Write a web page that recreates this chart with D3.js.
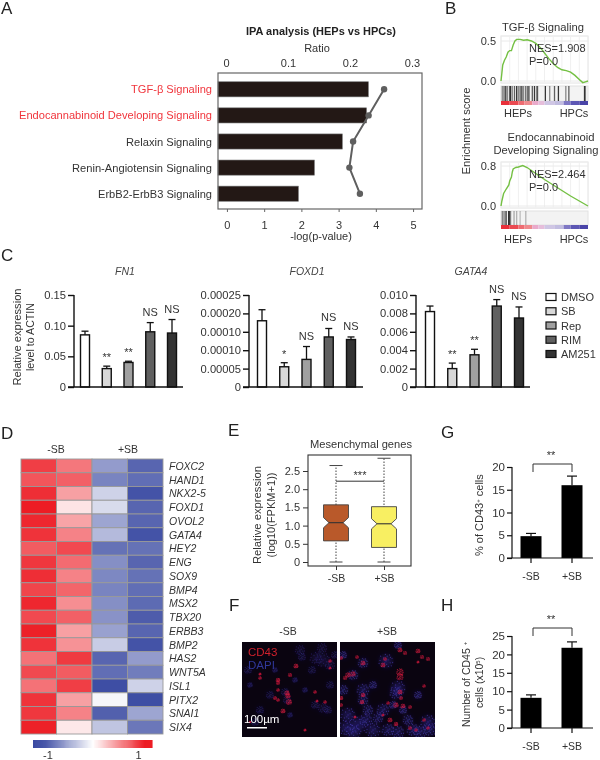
<!DOCTYPE html>
<html><head><meta charset="utf-8">
<script src="https://cdn.jsdelivr.net/npm/d3@7"></script>
<style>html,body{margin:0;padding:0;background:#fff}svg{display:block;filter:blur(0.3px)}text{font-family:"Liberation Sans",Arial,sans-serif;fill:#333}</style>
</head><body><svg id="c" width="600" height="760" viewBox="0 0 600 760"></svg>
<script>
// ---- Panel A
const ipaPathways=["TGF-β Signaling","Endocannabinoid Developing Signaling","Relaxin Signaling","Renin-Angiotensin Signaling","ErbB2-ErbB3 Signaling"];
const ipaLogP=[3.8,3.75,3.1,2.35,1.92];
const ipaRatio=[0.255,0.23,0.205,0.199,0.216];
// ---- Panel B
const gseaCurve1=[[0,0],[.01,.1],[.02,.2],[.04,.26],[.06,.3],[.08,.36],[.1,.38],[.12,.38],[.14,.45],[.16,.5],[.18,.52],[.22,.52],[.26,.51],[.3,.515],[.35,.5],[.4,.47],[.45,.42],[.5,.35],[.55,.28],[.6,.22],[.65,.17],[.7,.14],[.75,.13],[.8,.11],[.85,.07],[.9,.02],[.94,-.02],[.97,-.01],[1,0]];
const gseaCurve2=[[0,0],[.01,.1],[.03,.25],[.06,.34],[.09,.42],[.1,.5],[.12,.58],[.13,.68],[.14,.74],[.17,.77],[.2,.78],[.25,.81],[.3,.77],[.4,.65],[.5,.53],[.6,.42],[.7,.31],[.8,.2],[.9,.1],[1,0]];
const gseaRug1=[.015,.035,.055,.075,.1,.11,.13,.155,.18,.2,.22,.24,.26,.285,.31,.325,.36,.385,.41,.42,.51,.56,.615,.66,.745,.78,.96,.97];
const gseaRug2=[.015,.035,.058,.09,.093,.11,.15,.18,.22,.285];
const gseaRugOp2=[.55,.6,.95,1,1,.55,.35,.3,.25,.3];
const gseaBand=["#e8303a","#ea4a52","#ee6c72","#ef8a8e","#e9aacb","#e6bedb","#cfc6e4","#c2bde0","#7f78c4","#5d57b4","#4a44a8"];
const gseaBandStops=[0,.1,.2,.27,.36,.43,.5,.62,.72,.8,.9,1];
// ---- Panel C
const treatments=["DMSO","SB","Rep","RIM","AM251"];
const treatmentColors=["#ffffff","#d8d8d8","#a0a0a0","#606060","#333333"];
const fn1Values=[.085,.03,.04,.09,.088];
const fn1Err=[.091,.034,.042,.105,.11];
const fn1Marks=["","**","**","NS","NS"];
const fn1Ticks=[0,.05,.1,.15];
const fn1Labels=["0","0.05","0.10","0.15"];
const foxd1Values=[.00018,.000055,.000075,.000136,.000129];
const foxd1Err=[.00021,.000066,.00011,.000159,.000136];
const foxd1Marks=["","*","NS","NS","NS"];
const foxd1Ticks=[0,.00005,.0001,.00015,.0002,.00025];
const foxd1Labels=["0","0.00005","0.00010","0.00010","0.00020","0.00025"];
const gata4Values=[.0082,.002,.0035,.0088,.0075];
const gata4Err=[.0088,.0026,.0041,.0095,.0087];
const gata4Marks=["","**","**","NS","NS"];
const gata4Ticks=[0,.002,.004,.006,.008,.01];
const gata4Labels=["0","0.002","0.004","0.006","0.008","0.010"];
// ---- Panel D
const genes=["FOXC2","HAND1","NKX2-5","FOXD1","OVOL2","GATA4","HEY2","ENG","SOX9","BMP4","MSX2","TBX20","ERBB3","BMP2","HAS2","WNT5A","ISL1","PITX2","SNAI1","SIX4"];
const heatCols=["a","b","c","d"];
const heatA=[.85,.75,.92,1,.95,.9,.72,.88,.92,.82,.95,.8,.98,.9,.62,.8,.62,.9,.88,.98];
const heatB=[.6,.7,.42,.12,.4,.55,.8,.65,.55,.68,.5,.7,.42,.48,.87,.72,.85,.42,.55,.1];
const heatC=[-.55,-.68,-.25,-.2,-.5,-.38,-.78,-.62,-.66,-.68,-.62,-.6,-.52,-.28,-.85,-.8,-.98,-.05,-.88,-.32];
const heatD=[-.85,-.8,-.95,-.85,-.85,-.95,-.78,-.85,-.78,-.8,-.82,-.9,-.85,-.95,-.55,-.72,-.25,-.98,-.5,-.75];
// ---- Panel E
const boxGroups=["-SB","+SB"];
const boxLow=[0,0];const boxQ1=[.58,.4];const boxMed=[1.08,1.05];const boxQ3=[1.57,1.52];const boxHigh=[2.65,2.85];
const boxColors=["#b9592a","#f8ef62"];
const fSpeckle=[[0,0],[.7,.3],[-.6,.5],[.2,-.8],[-.4,-.5],[1,-.4],[-1,-.1],[.4,.9],[-.3,1],[.9,.8],[-.9,-.8],[.6,-1],[.35,-.2],[-.2,.3],[-.75,.9],[1.1,.25],[-1.15,.4],[.1,.55],[-.1,-1.1],[.75,-.6]];
const fBlue1=[[60,10,4],[62,17,3],[82,8,4],[76,18,5],[83,20,6],[90,25,4],[72,30,3],[20,70,3],[30,55,3],[45,52,3],[47,60,3],[10,45,2],[50,75,2],[65,50,2],[75,65,3],[83,68,4],[88,70,3],[55,40,2],[15,82,3],[35,30,2],[90,45,3],[8,30,3],[95,15,3]];
const fRed1=[[56,26,1.8],[50,35,1.5],[38,40,1.6],[38,43,1.4],[38,50,1.2],[47,53,1.9],[48,56,1.9],[49,62,2.2],[35,58,1.4],[38,60,1.2],[43,71,1.8],[20,38,1.2],[75,52,1.2],[90,21,1.2],[90,28,1],[77,61,1],[85,62,1.2],[65,90,1],[20,34,1],[10,82,.8]];
const fBlue2=[[25,23,4],[48,21,6],[35,45,3],[15,35,4],[25,50,5],[25,60,4],[60,48,6],[58,53,5],[45,70,5],[40,78,4],[10,75,6],[20,85,7],[35,90,6],[15,92,6],[50,90,5],[70,80,4],[90,82,6],[92,90,5],[75,90,5],[5,50,4],[80,55,3],[65,70,3],[60,5,3],[30,70,4],[5,15,3],[55,65,3],[8,88,6],[28,80,5],[60,92,5],[82,92,5]];
const fRed2=[[62,10,1.8],[67,13,1.5],[80,11,1.8],[84,17,1.5],[90,19,1.5],[19,17,1.3],[25,23,1.8],[45,25,1.8],[47,19,1.3],[62,32,2.8],[62,37,2.6],[10,35,2],[15,34,2],[7,38,1.5],[62,52,1.8],[63,58,1.4],[25,55,1.6],[24,62,1.6],[3,58,1.6],[3,65,1.4],[58,65,2],[65,66,1.8],[72,67,1.4],[50,63,1.2],[45,75,1],[52,80,1.8],[58,84,1.6],[72,88,1.4],[78,90,1.2],[86,80,1.2],[90,88,1.2],[17,77,1],[86,46,1.2],[3,18,1.4],[80,22,1]];
// ---- Panel G, H
const barGroups=["-SB","+SB"];
const gValues=[4.8,16];const gErr=[5.4,18];const gTicks=[0,5,10,15,20];
const hValues=[8.2,21.8];const hErr=[9,23.4];const hTicks=[0,5,10,15,20,25];

const svg=d3.select("#c");
const txt=(g,x,y,s,o={})=>g.append("text").attr("x",x).attr("y",y).text(s)
  .attr("font-size",o.size||11).attr("text-anchor",o.anchor||"middle")
  .attr("font-style",o.italic?"italic":null).attr("font-weight",o.bold?"bold":null)
  .style("fill",o.fill||"#333").attr("transform",o.rot?`rotate(${o.rot} ${x} ${y})`:null)
  .attr("textLength",o.len||null).attr("lengthAdjust",o.len?"spacingAndGlyphs":null);
[["A",1,14],["B",445,14],["C",1,261],["D",1,439],["E",228,436],["F",229,611],["G",441,438],["H",441,611]]
 .forEach(d=>txt(svg,d[1],d[2],d[0],{size:17,anchor:"start",fill:"#222"}));

function styleAxis(a,size,color="#333",w=1){
  a.selectAll("path,line").attr("stroke",color).attr("stroke-width",w);
  a.selectAll("text").attr("font-size",size).style("fill","#333");
}

// ===== A
(function(){
 const L=218,R=422,T=73,B=209;
 const x=d3.scaleLinear().domain([-.24,5.24]).range([L,R]);
 const xr=d3.scaleLinear().domain([0,.3]).range([226,412]);
 const y=d3.scaleBand().domain(ipaPathways).range([76,207]).paddingInner(.42).paddingOuter(.22);
 const g=svg.append("g");
 txt(g,321,35,"IPA analysis (HEPs vs HPCs)",{bold:true,size:10.5,len:150,fill:"#222"});
 txt(g,317,52,"Ratio",{size:11});
 txt(g,321,240,"-log(p-value)",{size:11});
 const top=g.append("g").attr("transform",`translate(0,${T})`).call(d3.axisTop(xr).tickValues([0,.1,.2,.3]).tickFormat(d=>d===0?"0":d3.format(".1f")(d)).tickSize(0).tickPadding(6));
 top.select("path").remove();styleAxis(top,11);
 const bot=g.append("g").attr("transform",`translate(0,${B})`).call(d3.axisBottom(x).tickValues([0,1,2,3,4,5]).tickFormat(d3.format("d")).tickSize(3).tickPadding(5));
 bot.select("path").remove();styleAxis(bot,11,"#666");
 bot.selectAll("text").attr("dy","1.05em");
 g.selectAll(".b").data(ipaPathways).join("rect").attr("x",L).attr("y",d=>y(d)).attr("height",y.bandwidth())
   .attr("width",(d,i)=>x(ipaLogP[i])-L).attr("fill","#231815").attr("stroke","#777").attr("stroke-width",.6);
 g.append("rect").attr("x",L).attr("y",T).attr("width",R-L).attr("height",B-T).attr("fill","none").attr("stroke","#666").attr("stroke-width",1.2);
 const line=d3.line().x((d,i)=>xr(ipaRatio[i])).y(d=>y(d)+y.bandwidth()/2);
 g.append("path").attr("d",line(ipaPathways)).attr("fill","none").attr("stroke","#5f5f5f").attr("stroke-width",2);
 g.selectAll(".p").data(ipaPathways).join("circle").attr("cx",(d,i)=>xr(ipaRatio[i])).attr("cy",d=>y(d)+y.bandwidth()/2).attr("r",3.2).attr("fill","#5f5f5f");
 ipaPathways.forEach((d,i)=>txt(g,212,y(d)+y.bandwidth()/2+4,d,{anchor:"end",size:11,fill:i<2?"#f0353c":"#333",len:[81,193,86,140,114][i]}));
})();

// ===== B
function gsea(o){
 const g=svg.append("g");
 const x=d3.scaleLinear().domain([0,1]).range([501,588]);
 const y=d3.scaleLinear().domain(o.dom).range(o.rng);
 g.append("rect").attr("x",501).attr("y",o.top).attr("width",87).attr("height",o.bot-o.top).attr("fill","#fff").attr("stroke","#e2e2e2");
 x.ticks(8).forEach(t=>g.append("line").attr("x1",x(t)).attr("x2",x(t)).attr("y1",o.top).attr("y2",o.bot).attr("stroke","#f0f0f0"));
 o.yt.forEach(t=>g.append("line").attr("x1",501).attr("x2",588).attr("y1",y(t)).attr("y2",y(t)).attr("stroke","#eaeaea"));
 const ax=g.append("g").attr("transform","translate(500,0)").call(d3.axisLeft(y).tickValues(o.yt).tickFormat(d3.format(".1f")).tickSize(0).tickPadding(4));
 ax.select("path").remove();styleAxis(ax,11);
 g.append("path").attr("d",d3.line().x(d=>x(d[0])).y(d=>y(d[1]))(o.curve)).attr("fill","none").attr("stroke","#74c043").attr("stroke-width",1.4);
 g.append("rect").attr("x",501).attr("y",o.r0).attr("width",87).attr("height",o.r1-o.r0).attr("fill","#f3f3f3").attr("stroke","#e2e2e2");
 g.selectAll(".r").data(o.rug).join("line").attr("x1",d=>x(d)).attr("x2",d=>x(d)).attr("y1",o.r0).attr("y2",o.r1)
  .attr("stroke","#222").attr("stroke-width",1.3).attr("opacity",(d,i)=>o.op?o.op[i]:(.5+(i%3)*.2));
 gseaBand.forEach((c,i)=>g.append("rect").attr("x",x(gseaBandStops[i])).attr("width",x(gseaBandStops[i+1])-x(gseaBandStops[i])).attr("y",o.r1).attr("height",4).attr("fill",c));
 txt(g,518,o.ly,"HEPs",{size:11});txt(g,574,o.ly,"HPCs",{size:11});
 txt(g,529,o.top+16,o.nes,{size:11,anchor:"start"});txt(g,529,o.top+29,"P=0.0",{size:11,anchor:"start"});
}
txt(svg,543,31,"TGF-β Signaling",{size:11,len:82});
txt(svg,551,141,"Endocannabinoid",{size:11,len:87});
txt(svg,546,154,"Developing Signaling",{size:11,len:105});
gsea({curve:gseaCurve1,rug:gseaRug1,dom:[0,.5],rng:[81,41],yt:[0,.5],top:36,bot:83,r0:86,r1:101,ly:117,nes:"NES=1.908"});
gsea({curve:gseaCurve2,rug:gseaRug2,op:gseaRugOp2,dom:[0,.8],rng:[206,166],yt:[0,.8],top:162,bot:208,r0:211,r1:225,ly:243,nes:"NES=2.464"});
txt(svg,470,131,"Enrichment score",{size:11,rot:-90,len:87});

// ===== C
function barsC(o){
 const g=svg.append("g");
 const y=d3.scaleLinear().domain(o.dom).range([387,295]);
 const x=d3.scalePoint().domain(treatments).range(o.xr);
 const ax=g.append("g").attr("transform",`translate(${o.ax},0)`).call(d3.axisLeft(y).tickValues(o.ticks).tickFormat((d,i)=>o.labels[i]).tickSize(6).tickPadding(2));
 ax.select("path").attr("d",`M0,295V387`);
 styleAxis(ax,11.2,"#111",1.4);
 treatments.forEach((t,i)=>{
  const cx=x(t);
  g.append("line").attr("x1",cx).attr("x2",cx).attr("y1",y(o.err[i])).attr("y2",y(o.vals[i])).attr("stroke","#111").attr("stroke-width",1.3);
  g.append("line").attr("x1",cx-3.5).attr("x2",cx+3.5).attr("y1",y(o.err[i])).attr("y2",y(o.err[i])).attr("stroke","#111").attr("stroke-width",1.3);
  g.append("rect").attr("x",cx-4.5).attr("width",9).attr("y",y(o.vals[i])).attr("height",387-y(o.vals[i])).attr("fill",treatmentColors[i]).attr("stroke","#111").attr("stroke-width",1.4);
  const ns=o.marks[i]==="NS";
  if(o.marks[i])txt(g,cx,y(o.err[i])-(ns?7:5),o.marks[i],{size:11});
 });
 g.append("line").attr("x1",o.ax-6).attr("x2",o.xe).attr("y1",387).attr("y2",387).attr("stroke","#111").attr("stroke-width",1.4);
 txt(g,o.tx,275,o.title,{size:10.5,italic:true,fill:"#444"});
}
barsC({dom:[0,.15],ticks:fn1Ticks,labels:fn1Labels,vals:fn1Values,err:fn1Err,marks:fn1Marks,ax:74,xe:183,xr:[85,172],title:"FN1",tx:125});
barsC({dom:[0,.00025],ticks:foxd1Ticks,labels:foxd1Labels,vals:foxd1Values,err:foxd1Err,marks:foxd1Marks,ax:249,xe:363,xr:[262,351],title:"FOXD1",tx:307});
barsC({dom:[0,.01],ticks:gata4Ticks,labels:gata4Labels,vals:gata4Values,err:gata4Err,marks:gata4Marks,ax:416,xe:530,xr:[430,519],title:"GATA4",tx:471});
txt(svg,21,337,"Relative expression",{size:11,rot:-90,len:97});
txt(svg,34,337,"level to ACTIN",{size:11,rot:-90,len:68});
const legY=d3.scalePoint().domain(treatments).range([297,354]);
treatments.forEach((t,i)=>{
 svg.append("rect").attr("x",546).attr("y",legY(t)-3.5).attr("width",10).attr("height",7).attr("fill",treatmentColors[i]).attr("stroke","#111").attr("stroke-width",1.2);
 txt(svg,561,legY(t)+4,t,{size:11,anchor:"start"});
});

// ===== D
(function(){
 const g=svg.append("g");
 const x=d3.scaleBand().domain(heatCols).range([21,163]);
 const y=d3.scaleBand().domain(genes).range([459,734]);
 const col=d3.scaleLinear().domain([-1,0,1]).range(["#3a4aa2","#ffffff","#ed1c24"]);
 const cols={a:heatA,b:heatB,c:heatC,d:heatD};
 heatCols.forEach(c=>g.selectAll(".c"+c).data(genes).join("rect").attr("x",x(c)).attr("y",d=>y(d)).attr("width",x.bandwidth()).attr("height",y.bandwidth())
   .attr("fill",(d,i)=>col(cols[c][i])).attr("stroke","#999").attr("stroke-width",.9));
 genes.forEach(d=>txt(g,169,y(d)+y.bandwidth()/2+4,d,{anchor:"start",size:10.5,italic:true}));
 txt(g,56,453,"-SB",{size:10.5});txt(g,128,453,"+SB",{size:10.5});
 const cb=d3.scaleLinear().domain([-1.15,1.15]).range([33,152]);
 d3.range(-1.15,1.15,.02).forEach(v=>g.append("rect").attr("x",cb(v)).attr("y",740).attr("width",1.6).attr("height",8).attr("fill",col(Math.max(-1,Math.min(1,v)))));
 txt(g,cb(-.86),759,"-1",{size:11});txt(g,cb(.89),759,"1",{size:11});
})();

// ===== E
(function(){
 const g=svg.append("g");
 const y=d3.scaleLinear().domain([0,2.5]).range([562,471]);
 const x=d3.scalePoint().domain(boxGroups).range([336,384]);
 g.append("rect").attr("x",308).attr("y",455).attr("width",103).attr("height",111).attr("fill","#fff").attr("stroke","#333").attr("stroke-width",1.1);
 const ax=g.append("g").attr("transform","translate(308,0)").call(d3.axisLeft(y).tickValues([0,.5,1,1.5,2,2.5]).tickFormat(d=>d===0?"0":d3.format(".1f")(d)).tickSize(5).tickPadding(3));
 ax.select("path").remove();styleAxis(ax,11,"#333");
 const ax2=g.append("g").attr("transform","translate(0,566)").call(d3.axisBottom(x).tickSize(4).tickPadding(5));
 ax2.select("path").remove();styleAxis(ax2,10.5,"#333");
 boxGroups.forEach((k,i)=>{
  const c=x(k),w=12.5,n=5.5,nh=.14;
  g.append("line").attr("x1",c).attr("x2",c).attr("y1",y(boxLow[i])).attr("y2",y(boxHigh[i])).attr("stroke","#444").attr("stroke-dasharray","1.5,1.5");
  [boxLow[i],boxHigh[i]].forEach(v=>g.append("line").attr("x1",c-6.5).attr("x2",c+6.5).attr("y1",y(v)).attr("y2",y(v)).attr("stroke","#444"));
  const p=d3.path();
  p.moveTo(c-w,y(boxQ1[i]));p.lineTo(c+w,y(boxQ1[i]));p.lineTo(c+w,y(boxMed[i]-nh));p.lineTo(c+w-n,y(boxMed[i]));p.lineTo(c+w,y(boxMed[i]+nh));
  p.lineTo(c+w,y(boxQ3[i]));p.lineTo(c-w,y(boxQ3[i]));p.lineTo(c-w,y(boxMed[i]+nh));p.lineTo(c-w+n,y(boxMed[i]));p.lineTo(c-w,y(boxMed[i]-nh));p.closePath();
  g.append("path").attr("d",p.toString()).attr("fill",boxColors[i]).attr("stroke","#444").attr("stroke-width",.9);
  g.append("line").attr("x1",c-w+n).attr("x2",c+w-n).attr("y1",y(boxMed[i])).attr("y2",y(boxMed[i])).attr("stroke","#333").attr("stroke-width",1.1);
 });
 g.append("line").attr("x1",336).attr("x2",384).attr("y1",y(2.22)).attr("y2",y(2.22)).attr("stroke","#333");
 txt(g,360,479,"***",{size:11});
 txt(g,361,448,"Mesenchymal genes",{size:10.5,len:102});
 txt(g,261,515,"Relative expression",{size:10.5,rot:-90,len:98});
 txt(g,275,515,"(log10(FPKM+1))",{size:10.5,rot:-90,len:85});
})();

// ===== F
const defs=svg.append("defs");
defs.append("filter").attr("id","bl").append("feGaussianBlur").attr("stdDeviation",2.4);
defs.append("filter").attr("id","bs").append("feGaussianBlur").attr("stdDeviation",.5);
function micro(id,x0,blue,red,bOp,glow,rOp){
 const g=svg.append("g");
 defs.append("clipPath").attr("id",id).append("rect").attr("x",x0+2).attr("y",642).attr("width",95).attr("height",95);
 const x=d3.scaleLinear().domain([0,100]).range([x0,x0+100]);
 const y=d3.scaleLinear().domain([0,100]).range([640,740]);
 const c=g.append("g").attr("clip-path",`url(#${id})`);
 c.append("rect").attr("x",x0).attr("y",640).attr("width",100).attr("height",100).attr("fill","#0a0410");
 c.append("g").attr("filter","url(#bl)").selectAll("circle").data(blue).join("circle").attr("cx",d=>x(d[0])).attr("cy",d=>y(d[1])).attr("r",d=>d[2]).attr("fill","#2a2488").attr("opacity",glow);
 const dots=(arr,col,op,rf)=>c.append("g").attr("filter","url(#bs)").selectAll("circle").data(arr.flatMap(d=>fSpeckle.map(s=>[d[0]+s[0]*d[2],d[1]+s[1]*d[2],d[2]]))).join("circle")
   .attr("cx",d=>x(d[0])).attr("cy",d=>y(d[1])).attr("r",rf).attr("fill",col).attr("opacity",op);
 dots(blue,"#4a40b8",bOp,.65);
 dots(red,"#e81e44",rOp,d=>.3+d[2]*.13);
}
micro("f1",240,fBlue1,fRed1,.3,.25,.7);
micro("f2",338,fBlue2,fRed2,.55,.5,.65);
txt(svg,288,635,"-SB",{size:10.5});txt(svg,387,635,"+SB",{size:10.5});
txt(svg,248,656,"CD43",{size:11.5,anchor:"start",fill:"#d0202c"});
txt(svg,248,669,"DAPI",{size:11.5,anchor:"start",fill:"#30389a"});
txt(svg,244,723,"100µm",{size:11.5,anchor:"start",fill:"#fff"});
svg.append("rect").attr("x",247).attr("y",727).attr("width",20).attr("height",1.5).attr("fill","#fff");

// ===== G, H
function barsG(o){
 const g=svg.append("g");
 const y=d3.scaleLinear().domain(o.dom).range([o.y0,o.y1]);
 const x=d3.scalePoint().domain(barGroups).range([531,572]);
 const ax=g.append("g").attr("transform","translate(512,0)").call(d3.axisLeft(y).tickValues(o.ticks).tickSize(5).tickPadding(2));
 ax.select("path").attr("d",`M0,${o.y1}V${o.y0}`);styleAxis(ax,11.5,"#111",1.2);
 barGroups.forEach((k,i)=>{
  const c=x(k);
  g.append("line").attr("x1",c).attr("x2",c).attr("y1",y(o.err[i])).attr("y2",y(o.vals[i])).attr("stroke","#111").attr("stroke-width",1.2);
  g.append("line").attr("x1",c-5).attr("x2",c+5).attr("y1",y(o.err[i])).attr("y2",y(o.err[i])).attr("stroke","#111").attr("stroke-width",1.2);
  g.append("rect").attr("x",c-10.5).attr("width",21).attr("y",y(o.vals[i])).attr("height",o.y0-y(o.vals[i])).attr("fill","#000");
  g.append("line").attr("x1",c).attr("x2",c).attr("y1",o.y0).attr("y2",o.y0+5).attr("stroke","#111").attr("stroke-width",1.2);
  txt(g,c,o.y0+22,k,{size:10.5});
 });
 g.append("line").attr("x1",507).attr("x2",593).attr("y1",o.y0).attr("y2",o.y0).attr("stroke","#111").attr("stroke-width",1.2);
 g.append("path").attr("d",`M533,${o.b+8}V${o.b}H572V${o.b+8}`).attr("fill","none").attr("stroke","#333");
 txt(g,551,o.b-5,"**",{size:11});
}
barsG({dom:[0,20],y0:558,y1:467,ticks:gTicks,vals:gValues,err:gErr,b:464});
barsG({dom:[0,25],y0:728,y1:636,ticks:hTicks,vals:hValues,err:hErr,b:628});
const g43=txt(svg,483,556,"% of  CD43",{size:11,anchor:"start",rot:-90});
g43.append("tspan").text("+").attr("font-size",6).attr("dy",-3);
g43.append("tspan").text(" cells").attr("dy",3);
const h45=txt(svg,470,727,"Number of CD45 ",{size:10.5,anchor:"start",rot:-90});
h45.append("tspan").text("+").attr("font-size",6).attr("dy",-3);
const h2=txt(svg,483,708,"cells (x10",{size:10.5,anchor:"start",rot:-90});
h2.append("tspan").text("5").attr("font-size",6).attr("dy",-3);
h2.append("tspan").text(")").attr("dy",3);
</script></body></html>
